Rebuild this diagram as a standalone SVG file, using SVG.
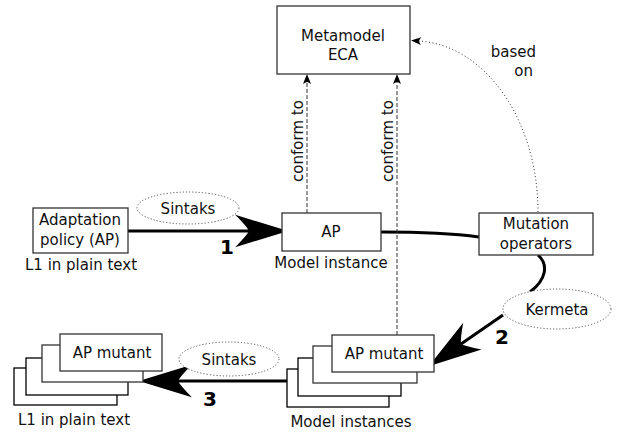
<svg xmlns="http://www.w3.org/2000/svg" width="619" height="433" viewBox="0 0 619 433">
<defs>
<style>
text{font-family:"DejaVu Sans","Liberation Sans",sans-serif;font-size:15px;fill:#111}
.num{font-size:20px;font-weight:bold;fill:#000}
.box{fill:#fff;stroke:#333;stroke-width:1.3}
.box2{fill:#fff;stroke:#000;stroke-width:1.3}
.ell{fill:#fff;stroke:#555;stroke-width:1;stroke-dasharray:1.2,2}
.thick{fill:none;stroke:#000;stroke-width:3}
.dash{fill:none;stroke:#333;stroke-width:1;stroke-dasharray:4,2}
.dot{fill:none;stroke:#333;stroke-width:1;stroke-dasharray:1,2.5}
</style>
<marker id="big" markerUnits="userSpaceOnUse" markerWidth="60" markerHeight="40" viewBox="-14 -16 52 32" refX="0" refY="0" orient="auto" overflow="visible">
<path d="M34,0 L-12,-14 Q-2,-4 0,0 Q-2,4 -12,14 Z" fill="#000"/>
</marker>
<marker id="small" markerUnits="userSpaceOnUse" markerWidth="14" markerHeight="10" viewBox="-3 -5 14 10" refX="0" refY="0" orient="auto" overflow="visible">
<path d="M8,0 L-2,-4 Q0,-1 0,0 Q0,1 -2,4 Z" fill="#000"/>
</marker>
</defs>

<g id="connectors">
<path class="thick" d="M128,231 L249,231" marker-end="url(#big)"/>
<path class="thick" d="M381,232 C420,232 450,233 479,237"/>
<path class="thick" d="M538,255 C549,265 546,280 530,292"/>
<path class="thick" d="M503,315 L461,344" marker-end="url(#big)"/>
<path class="thick" d="M287,381 L178,381" marker-end="url(#big)"/>
<path class="dash" d="M307,213 L307,82" marker-end="url(#small)"/>
<path class="dash" d="M397,335 L397,82" marker-end="url(#small)"/>
<path class="dot" d="M538,212 C538,120 485,45 419,41" marker-end="url(#small)"/>
<text x="304" y="141" text-anchor="middle" transform="rotate(-90 304 141)" dy="-1">conform to</text>
<text x="394" y="141" text-anchor="middle" transform="rotate(-90 394 141)" dy="-1">conform to</text>
<text x="536" y="57" text-anchor="end">based</text>
<text x="533" y="76" text-anchor="end">on</text>
<text class="num" x="227" y="254" text-anchor="middle">1</text>
<text class="num" x="502" y="344" text-anchor="middle">2</text>
<text class="num" x="210" y="406" text-anchor="middle">3</text>
</g>

<g id="metamodel">
<rect class="box" x="277" y="6" width="133" height="68"/>
<text x="343" y="41" text-anchor="middle">Metamodel</text>
<text x="343" y="60" text-anchor="middle">ECA</text>
</g>

<g id="adaptation-policy">
<rect class="box" x="33" y="208" width="95" height="45"/>
<text x="80" y="225" text-anchor="middle">Adaptation</text>
<text x="80" y="245" text-anchor="middle">policy (AP)</text>
<text x="81" y="270" text-anchor="middle">L1 in plain text</text>
</g>

<g id="sintaks-top">
<ellipse class="ell" cx="188" cy="208" rx="51" ry="16"/>
<text x="188" y="214" text-anchor="middle">Sintaks</text>
</g>

<g id="ap-model">
<rect class="box" x="282" y="213" width="99" height="38"/>
<text x="331" y="237" text-anchor="middle">AP</text>
<text x="331" y="268" text-anchor="middle">Model instance</text>
</g>

<g id="mutation-operators">
<rect class="box" x="479" y="213" width="114" height="42"/>
<text x="536" y="229" text-anchor="middle">Mutation</text>
<text x="536" y="249" text-anchor="middle">operators</text>
</g>

<g id="kermeta">
<ellipse class="ell" cx="557" cy="309" rx="54" ry="20"/>
<text x="557" y="315" text-anchor="middle">Kermeta</text>
</g>

<g id="model-instances">
<rect class="box2" x="287" y="369" width="102" height="38"/>
<rect class="box2" x="298" y="358" width="103" height="38"/>
<rect class="box" x="313" y="346" width="104" height="37"/>
<rect class="box" x="332" y="335" width="102" height="37"/>
<text x="384" y="359" text-anchor="middle">AP mutant</text>
<text x="351" y="427" text-anchor="middle">Model instances</text>
</g>

<g id="sintaks-bottom">
<ellipse class="ell" cx="229" cy="359" rx="50" ry="17"/>
<text x="229" y="365" text-anchor="middle">Sintaks</text>
</g>

<g id="plain-text-mutants">
<rect class="box2" x="14" y="368" width="103" height="37"/>
<rect class="box2" x="26" y="358" width="102" height="37"/>
<rect class="box" x="42" y="345" width="101" height="37"/>
<rect class="box" x="60" y="334" width="102" height="37"/>
<text x="112" y="358" text-anchor="middle">AP mutant</text>
<text x="74" y="425" text-anchor="middle">L1 in plain text</text>
</g>
</svg>
